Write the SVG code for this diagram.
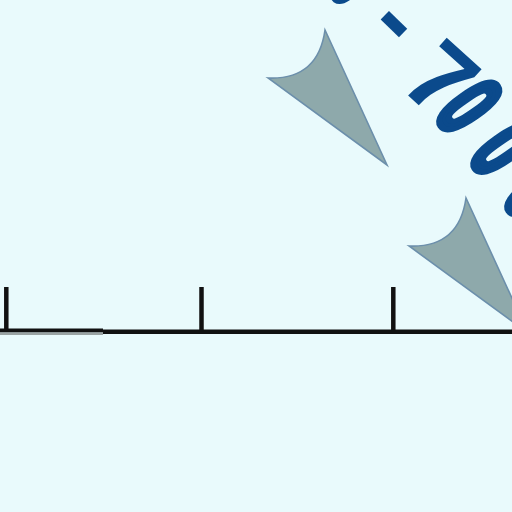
<svg xmlns="http://www.w3.org/2000/svg" width="512" height="512" viewBox="0 0 512 512">
  <style>
    .bg { fill: #E9FAFC; }
    .pointer { fill: #8EA9AB; stroke: #6C8FAB; stroke-width: 1.6; stroke-linejoin: miter; }
    .axis { fill: #111111; }
    .axis-shade { fill: #9AA3A3; }
    .tick { stroke: #111111; stroke-width: 4.5; stroke-linecap: butt; }
    .glyph { font-family: "Liberation Sans", Arial, sans-serif; font-weight: bold; font-size: 100px; fill: #0B4A8C; }
    .digit { text-anchor: middle; stroke: #0B4A8C; stroke-width: 7.3; stroke-linejoin: round; }
  </style>
  <defs>
    <path id="pointer-shape" d="M325,30 Q318,80 268,78 L387,165 Z"/>
  </defs>

  <rect class="bg" x="0" y="0" width="512" height="512"/>

  <!-- curved range label -->
  <g id="range-label">
    <text class="glyph digit" transform="translate(336.3,-1.5) rotate(35) scale(0.565,0.974)">0</text>
    <text class="glyph" transform="translate(364,31.2) rotate(44)">-</text>
    <text class="glyph" transform="translate(397.6,86.1) rotate(42)">7</text>
    <text class="glyph digit" transform="translate(441.7,125.4) rotate(55) scale(0.565,0.974)">0</text>
    <text class="glyph digit" transform="translate(475.7,167.9) rotate(55) scale(0.565,0.974)">0</text>
    <text class="glyph digit" transform="translate(509.7,210.4) rotate(55) scale(0.565,0.974)">0</text>
  </g>

  <!-- pointers -->
  <g id="pointer-upper">
    <use href="#pointer-shape" class="pointer"/>
  </g>
  <g id="pointer-lower">
    <use href="#pointer-shape" class="pointer" transform="translate(141,168)"/>
  </g>

  <!-- scale axis with ticks -->
  <g id="axis">
    <rect class="axis" x="0" y="328.5" width="103" height="4"/>
    <rect class="axis-shade" x="0" y="332.5" width="103" height="2.5"/>
    <rect class="axis" x="103" y="329.5" width="409" height="4.5"/>
    <line class="tick" x1="6.3" y1="287" x2="6.3" y2="330"/>
    <line class="tick" x1="201.5" y1="287" x2="201.5" y2="331"/>
    <line class="tick" x1="393.3" y1="287" x2="393.3" y2="331"/>
  </g>
</svg>
